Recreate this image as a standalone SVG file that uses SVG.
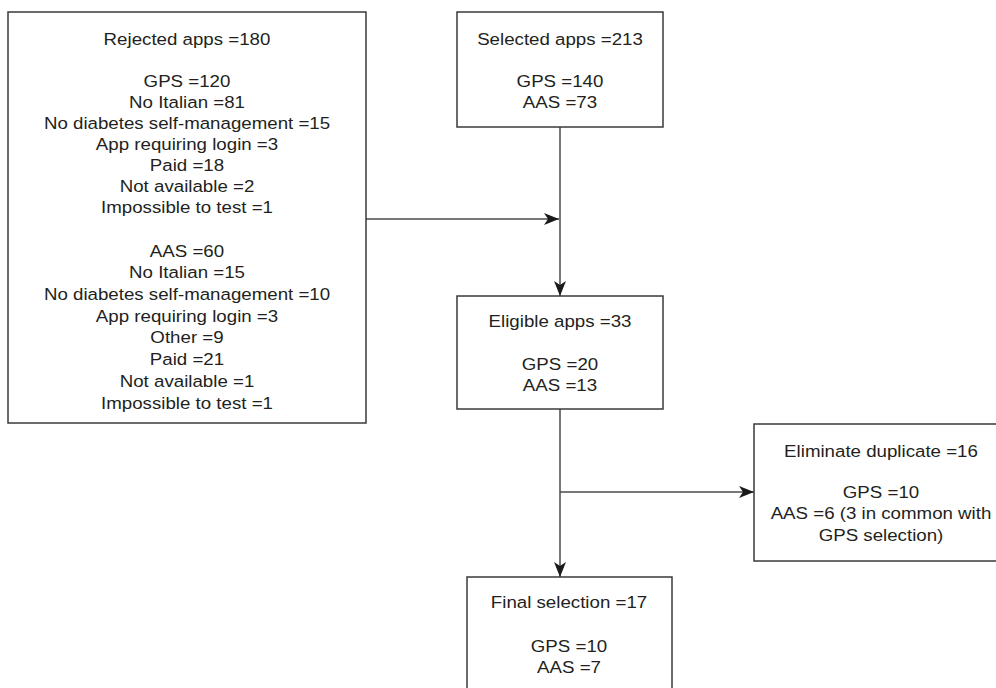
<svg xmlns="http://www.w3.org/2000/svg" width="996" height="688" viewBox="0 0 996 688">
<style>
.box{fill:#fff;stroke:#3a3a3a;stroke-width:1.5}
.t{font-family:"Liberation Sans",Arial,sans-serif;font-size:17px;fill:#231f20;text-anchor:middle}
.c{fill:none;stroke:#4a4a4a;stroke-width:1.5}
</style>
<defs>
<marker id="ah" markerUnits="userSpaceOnUse" markerWidth="16" markerHeight="12" refX="15" refY="6" orient="auto">
<path d="M0,0 L15,6 L0,12 L4,6 Z" fill="#1a1a1a"/>
</marker>
</defs>
<rect width="996" height="688" fill="#fff"/>
<g id="connectors">
<line class="c" x1="366" y1="219" x2="559" y2="219" marker-end="url(#ah)"/>
<line class="c" x1="560" y1="127" x2="560" y2="296" marker-end="url(#ah)"/>
<line class="c" x1="560" y1="409" x2="560" y2="577" marker-end="url(#ah)"/>
<line class="c" x1="560" y1="492" x2="754" y2="492" marker-end="url(#ah)"/>
</g>
<g id="rejected">
<rect class="box" x="8" y="12" width="358" height="411"/>
<g class="t" transform="translate(187,0) scale(1.1,1)">
<text x="0" y="45">Rejected apps =180</text>
<text x="0" y="87">GPS =120</text>
<text x="0" y="108">No Italian =81</text>
<text x="0" y="129">No diabetes self-management =15</text>
<text x="0" y="150">App requiring login =3</text>
<text x="0" y="171">Paid =18</text>
<text x="0" y="192">Not available =2</text>
<text x="0" y="213">Impossible to test =1</text>
<text x="0" y="257">AAS =60</text>
<text x="0" y="278">No Italian =15</text>
<text x="0" y="300">No diabetes self-management =10</text>
<text x="0" y="322">App requiring login =3</text>
<text x="0" y="343">Other =9</text>
<text x="0" y="365">Paid =21</text>
<text x="0" y="387">Not available =1</text>
<text x="0" y="409">Impossible to test =1</text>
</g>
</g>
<g id="selected">
<rect class="box" x="457" y="12" width="206" height="115"/>
<g class="t" transform="translate(560,0) scale(1.1,1)">
<text x="0" y="45">Selected apps =213</text>
<text x="0" y="87">GPS =140</text>
<text x="0" y="108">AAS =73</text>
</g>
</g>
<g id="eligible">
<rect class="box" x="457" y="296" width="206" height="113"/>
<g class="t" transform="translate(560,0) scale(1.1,1)">
<text x="0" y="327">Eligible apps =33</text>
<text x="0" y="370">GPS =20</text>
<text x="0" y="391">AAS =13</text>
</g>
</g>
<g id="eliminate">
<rect class="box" x="754" y="424" width="254" height="137"/>
<g class="t" transform="translate(881,0) scale(1.1,1)">
<text x="0" y="457">Eliminate duplicate =16</text>
<text x="0" y="498">GPS =10</text>
<text x="0" y="519">AAS =6 (3 in common with</text>
<text x="0" y="541">GPS selection)</text>
</g>
</g>
<g id="final">
<rect class="box" x="467" y="577" width="205" height="130"/>
<g class="t" transform="translate(569,0) scale(1.1,1)">
<text x="0" y="608">Final selection =17</text>
<text x="0" y="652">GPS =10</text>
<text x="0" y="673">AAS =7</text>
</g>
</g>
</svg>
